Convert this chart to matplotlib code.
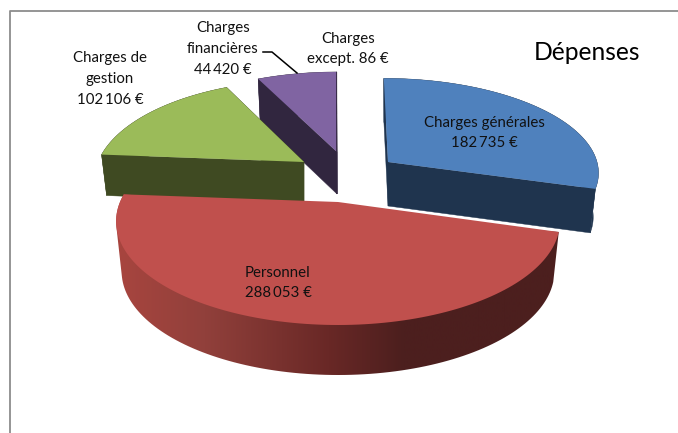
import numpy as np
import matplotlib
matplotlib.use('Agg')
import matplotlib.pyplot as plt
from matplotlib.colors import LinearSegmentedColormap
from matplotlib.patches import Polygon

#----- data
categories = ['Charges générales', 'Personnel', 'Charges de\ngestion', 'Charges\nfinancières', 'Charges\nexcept.']
values = [182735, 288053, 102106, 44420, 86]
title = 'Dépenses'

#----- look of each slice: apex x, apex y, A, B, perspective, skew, depth
top_colors = ['#4F81BD', '#C0504D', '#9BBB59', '#8064A2', '#8064A2']
wall_colors = ['#1F344E', None, '#3F4A22', '#31263F', '#31263F']
geom = [
    (388, 162, 209, 92, 0.10, -4, 44),
    (338, 202, 218, 100, 0.187, 0, 50),
    (304, 162, 206, 97, 0.187, 0, 41),
    (337, 152, 210, 95, 0.187, 0, 42),
    (337, 152, 210, 95, 0.187, 0, 42),
]
red_stops = [(0, '#A8453F'), (0.2, '#91403B'), (0.48, '#692826'), (0.65, '#4C1F1E'), (1, '#4C1F1E')]
label_pos = [(484, 133), (278, 283), (110, 79), (223, 49), (348, 49)]


def project(g, th, bottom=False):
    cx, cy, a, b, k, skew, depth = g
    X, Y = np.cos(th), np.sin(th)
    w = 1 + k * Y
    sx = a * X / w + skew * Y
    sy = -b * Y / w
    if bottom:
        return cx + sx * 0.975, cy + sy + depth
    return cx + sx, cy + sy


def hull(pts):
    # monotone chain, the side wall outline of the big slice
    pts = sorted(map(tuple, pts))
    def half(seq):
        out = []
        for p in seq:
            while len(out) > 1 and ((out[-1][0] - out[-2][0]) * (p[1] - out[-2][1])
                                    - (out[-1][1] - out[-2][1]) * (p[0] - out[-2][0])) <= 0:
                out.pop()
            out.append(p)
        return out[:-1]
    return half(pts) + half(pts[::-1])


fig = plt.figure(figsize=(6.78, 4.33), dpi=100)
ax = fig.add_axes([0, 0, 1, 1])
ax.set_xlim(0, 678)
ax.set_ylim(433, 0)
ax.axis('off')

#----- frame of the chart
ax.plot([10, 10, 678], [433, 11, 11], color='#8C8C8C', lw=1.3, zorder=1)

fractions = np.array(values) / sum(values)
ends = np.pi / 2 + 0.001 - 2 * np.pi * np.cumsum(fractions)
starts = ends + 2 * np.pi * fractions

#----- back slices are drawn first
order = [3, 4, 2, 0, 1]
for i in order:
    g = geom[i]
    th = np.linspace(starts[i], ends[i], 120)
    tx, ty = project(g, th)
    bx, by = project(g, th, True)
    ax0, ay0 = g[0], g[1]
    bx0, by0 = g[0], g[1] + g[6]
    z = 2 + order.index(i)
    rim = np.column_stack([np.r_[tx, bx[::-1]], np.r_[ty, by[::-1]]])
    cut1 = [(ax0, ay0), (tx[0], ty[0]), (bx[0], by[0]), (bx0, by0)]
    cut2 = [(ax0, ay0), (tx[-1], ty[-1]), (bx[-1], by[-1]), (bx0, by0)]
    if wall_colors[i] is None:
        cmap = LinearSegmentedColormap.from_list('wall', red_stops)
        grad = np.linspace(0, 1, 256).reshape(1, -1)
        im = ax.imshow(grad, cmap=cmap, extent=[tx.min(), tx.max(), 433, 0], aspect='auto', zorder=z)
        im.set_clip_path(Polygon(hull(rim), closed=True, transform=ax.transData))
    else:
        for pts in (cut1, cut2, rim):
            ax.add_patch(Polygon(pts, closed=True, fc=wall_colors[i], ec=wall_colors[i], lw=0.3, zorder=z))
    top = np.column_stack([np.r_[ax0, tx], np.r_[ay0, ty]])
    ax.add_patch(Polygon(top, closed=True, fc=top_colors[i], ec='none', zorder=z + 0.5))

ax.set_xlim(0, 678)
ax.set_ylim(433, 0)

#----- labels
font = 'Lato'
for name, v, (x, y) in zip(categories, values, label_pos):
    amount = f'{v:,}'.replace(',', '\u2009') + ' €'
    sep = ' ' if name.endswith('except.') else '\n'
    ax.text(x, y, name + sep + amount, ha='center', va='center', fontsize=10.8,
            family=[font, 'DejaVu Sans'], color='#111111', linespacing=1.6, zorder=20)
ax.text(587, 52, title, ha='center', va='center', fontsize=17.7, family=[font, 'DejaVu Sans'], color='black', zorder=20)

#----- leader line
ax.plot([263, 272, 297], [52, 52, 73], color='black', lw=1.1, zorder=20)

plt.savefig('out.png', dpi=100)
